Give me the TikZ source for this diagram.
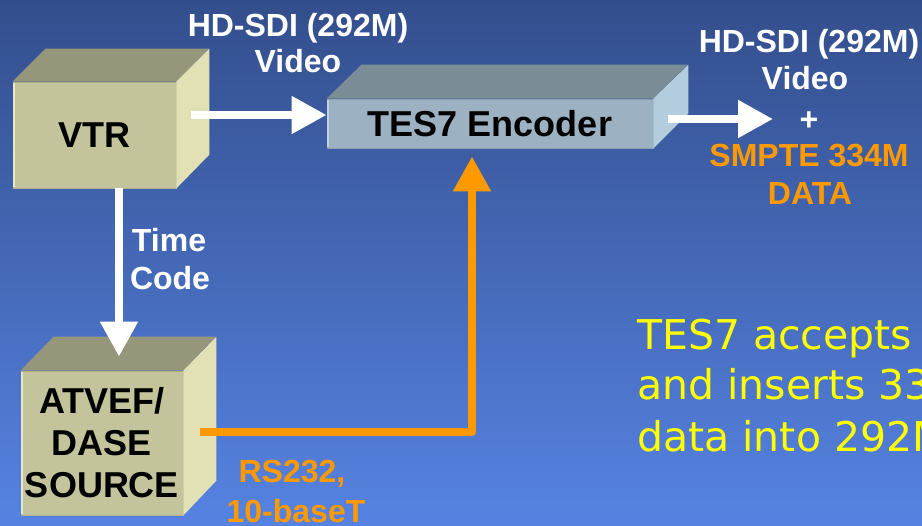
\documentclass[tikz,border=0pt]{standalone}
\usepackage{fontspec}
\setmainfont{Liberation Sans}
\newfontfamily\yfont{DejaVu Sans}
\usetikzlibrary{arrows.meta}
\definecolor{bgtop}{RGB}{51,78,140}
\definecolor{bgbot}{RGB}{86,131,226}
\definecolor{tanfront}{RGB}{196,196,156}
\definecolor{tantop}{RGB}{150,150,122}
\definecolor{tanside}{RGB}{226,225,182}
\definecolor{tanedge}{RGB}{176,176,138}
\definecolor{tanlight}{RGB}{232,232,196}
\definecolor{encfront}{RGB}{156,178,194}
\definecolor{enctop}{RGB}{122,141,150}
\definecolor{encside}{RGB}{180,205,222}
\definecolor{encedge}{RGB}{138,160,176}
\definecolor{encl}{RGB}{190,210,224}
\definecolor{orng}{RGB}{255,153,0}
\definecolor{yel}{RGB}{255,255,0}
\tikzset{
  front/.style={inner sep=0pt, font=\fontsize{36}{42}\selectfont\bfseries, text=black, align=center},
  lbl/.style={inner sep=0pt, anchor=base, font=\fontsize{32}{36}\selectfont\bfseries, text=white},
  olbl/.style={lbl, text=orng},
  ytxt/.style={inner sep=0pt, anchor=base west, font=\fontsize{41}{51}\selectfont\yfont, text=yel},
  wline/.style={draw=white, line width=8pt, -{Triangle[length=35pt,width=36pt]}},
  oline/.style={draw=orng, line width=8pt, line join=round, -{Triangle[length=35pt,width=36pt]}}
}
\begin{document}
\begin{tikzpicture}[x=1pt,y=-1pt]
\clip (0,0) rectangle (922,526);
\shade[top color=bgtop, bottom color=bgbot] (0,0) rectangle (922,526);

% VTR box
\node[front, fill=tanfront, draw=tanedge, line width=0.8pt, minimum width=163pt, minimum height=106pt] (vtr) at (94.5,135) {VTR};
\fill[tantop] (vtr.north west) -- ++(33,-33) -- ++(163,0) -- (vtr.north east) -- cycle;
\fill[tanside] (vtr.north east) -- ++(33,-33) -- ++(0,106) -- (vtr.south east) -- cycle;
\draw[tanlight, line width=2pt] ([shift={(1.5,1)}]vtr.north west) -- ([shift={(1.5,-1)}]vtr.south west);

% Encoder box
\node[front, fill=encfront, draw=encedge, line width=0.8pt, minimum width=326pt, minimum height=49pt] (enc) at (490,123.5) {TES7 Encoder};
\fill[enctop] (enc.north west) -- ++(35,-34) -- ++(326,0) -- (enc.north east) -- cycle;
\fill[encside] (enc.north east) -- ++(35,-34) -- ++(0,49) -- (enc.south east) -- cycle;
\draw[encl, line width=2pt] ([shift={(1.5,1)}]enc.north west) -- ([shift={(1.5,-1)}]enc.south west);

% ATVEF box
\node[front, fill=tanfront, draw=tanedge, line width=0.8pt, minimum width=162pt, minimum height=144pt] (atv) at (102,443) {ATVEF/\\DASE\\SOURCE};
\fill[tantop] (atv.north west) -- ++(33,-34) -- ++(162,0) -- (atv.north east) -- cycle;
\fill[tanside] (atv.north east) -- ++(33,-34) -- ++(0,144) -- (atv.south east) -- cycle;
\draw[tanlight, line width=2pt] ([shift={(1.5,1)}]atv.north west) -- ([shift={(1.5,-1)}]atv.south west);

% connector end points
\coordinate (vtrout) at ([shift={(15,-20)}]vtr.east);
\coordinate (encout) at ([shift={(15,-4.5)}]enc.east);
\coordinate (outtip) at (773,119);
\coordinate (tcstart) at ([shift={(24.5,0)}]vtr.south);
\coordinate (tctip) at ([shift={(17,-14)}]atv.north);
\coordinate (rsstart) at ([shift={(17,-11)}]atv.east);
\coordinate (rstip) at ([shift={(-18,8)}]enc.south);

% connectors
\draw[wline] (vtrout) -- (vtrout -| enc.west);
\draw[wline] (encout) -- (outtip);
\draw[wline] (tcstart) -- (tctip);
\draw[oline] (rsstart) -| (rstip);

% labels
\node[lbl] (l1) at (298,37) {HD-SDI (292M)};
\node[lbl] (l2) at (298,73) {Video};
\node[lbl] (r1) at (809,53) {HD-SDI (292M)};
\node[lbl] (r2) at (805,90) {Video};
\node[lbl] (r3) at (809,131) {+};
\node[olbl] (r4) at (809,167) {SMPTE 334M};
\node[olbl] (r5) at (810,205) {DATA};
\node[lbl] (t1) at (169,252) {Time};
\node[lbl] (t2) at (170,290) {Code};
\node[olbl] (s1) at (292,483) {RS232,};
\node[olbl] (s2) at (296,523) {10-baseT};

\node[ytxt] (y1) at (637,350) {TES7 accepts};
\node[ytxt] (y2) at (637,400) {and inserts 33};
\node[ytxt] (y3) at (637,452) {data into 292M};
\end{tikzpicture}
\end{document}
